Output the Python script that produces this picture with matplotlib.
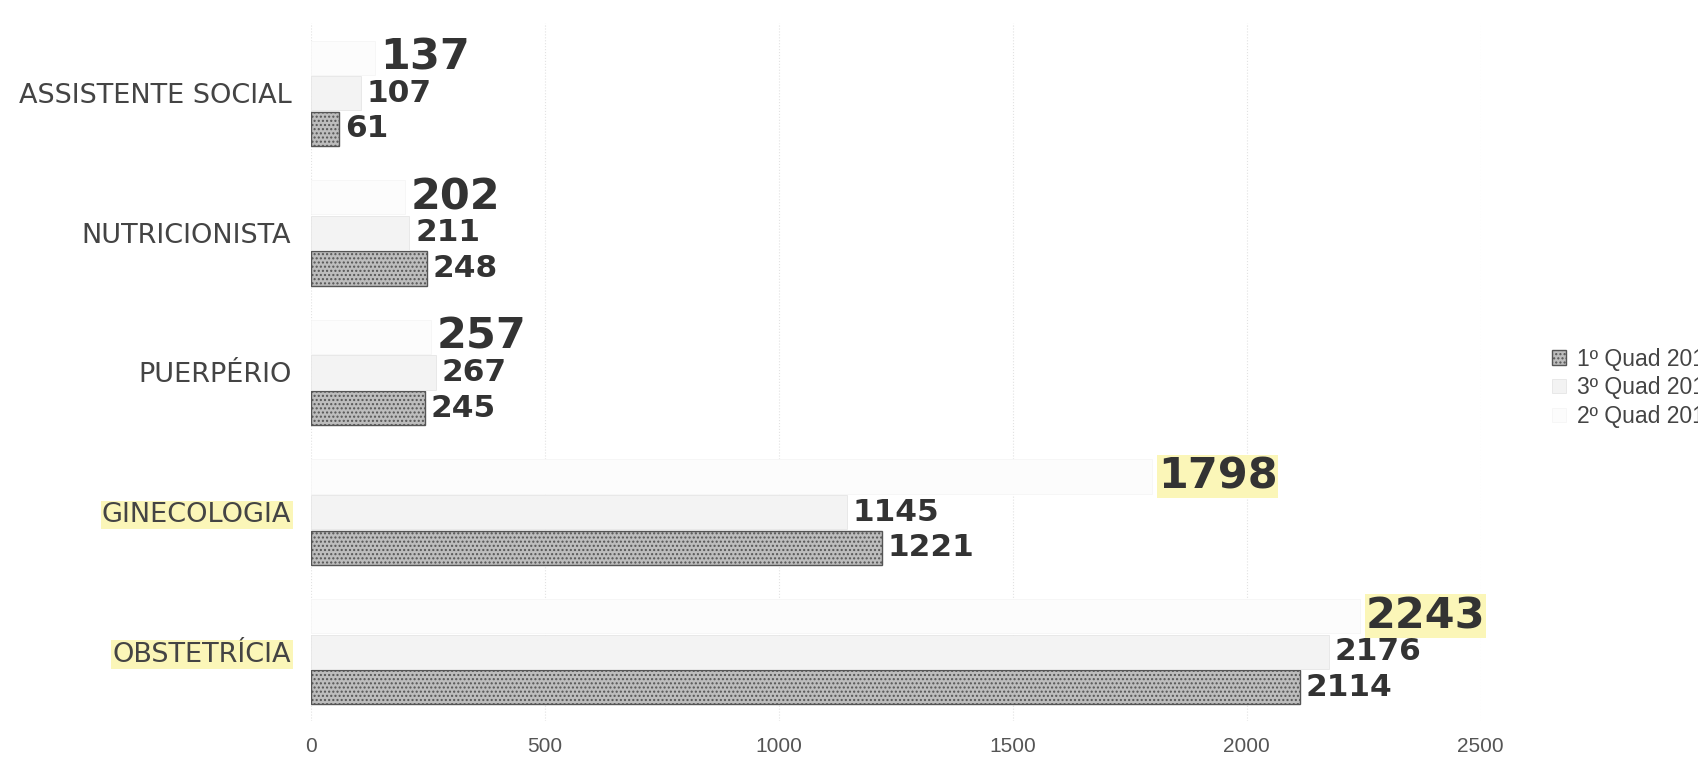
import matplotlib
matplotlib.use('Agg')
import matplotlib.pyplot as plt
import numpy as np

categories = ['ASSISTENTE SOCIAL', 'NUTRICIONISTA', 'PUERPÉRIO', 'GINECOLOGIA', 'OBSTETRÍCIA']
quad1 = [61, 248, 245, 1221, 2114]
quad3 = [107, 211, 267, 1145, 2176]
quad2 = [137, 202, 257, 1798, 2243]
series_names = ['1º Quad 2019', '3º Quad 2019', '2º Quad 2019']
xticks = [0, 500, 1000, 1500, 2000, 2500]
highlighted = ['GINECOLOGIA', 'OBSTETRÍCIA']

plt.rcParams['font.family'] = ['DejaVu Sans']

fig = plt.figure(figsize=(16.98, 7.57), dpi=100)
ax = fig.add_axes([0.183, 0.047, 0.689, 0.922])

y = np.arange(len(categories))
h = 0.245
off = 0.255

b1 = ax.barh(y + off, quad1, height=h, color='#bdbdbd', edgecolor='#555555',
             linewidth=1.0, hatch='....', label=series_names[0])
b3 = ax.barh(y, quad3, height=h, color='#f3f3f3', edgecolor='#e6e6e6',
             linewidth=0.6, label=series_names[1])
b2 = ax.barh(y - off, quad2, height=h, color='#fcfcfc', edgecolor='#f5f5f5',
             linewidth=0.6, label=series_names[2])

# 2º quad labels first so the smaller labels sit on top of their highlight
for bars, vals, size in [(b2, quad2, 31), (b3, quad3, 22.5), (b1, quad1, 22.5)]:
    for rect, v in zip(bars, vals):
        t = ax.annotate(str(v), (v, rect.get_y() + rect.get_height() / 2),
                        xytext=(4, 0), textcoords='offset points',
                        ha='left', va='center', fontsize=size,
                        fontweight='bold', color='#333333')
        if bars is b2 and v > 1000:
            t.set_bbox(dict(facecolor='#fbf6b8', edgecolor='none', pad=0.5))

ax.set_ylim(len(categories) - 0.5, -0.5)
ax.set_xlim(0, 2500)
ax.set_yticks(y)
ax.set_yticklabels(categories, fontsize=19.5, color='#444444')
for lab in ax.get_yticklabels():
    if lab.get_text() in highlighted:
        lab.set_bbox(dict(facecolor='#fbf6b8', edgecolor='none', pad=1))
ax.set_xticks(xticks)
ax.set_xticklabels([str(t) for t in xticks], fontsize=15, color='#555555',
                   family=['Liberation Sans'])
ax.tick_params(axis='both', length=0)
ax.tick_params(axis='x', pad=11)
ax.tick_params(axis='y', pad=14)

ax.grid(True, axis='x', color='#e2e2e2', linewidth=0.8, linestyle=':')
ax.set_axisbelow(True)
for s in ax.spines.values():
    s.set_visible(False)

ax.legend(loc='center left', bbox_to_anchor=(1.043, 0.478), frameon=False,
          prop={'family': 'Liberation Sans', 'size': 16.5}, labelcolor='#444444',
          handlelength=0.65, handleheight=0.57, handletextpad=0.44,
          labelspacing=0.25)

fig.savefig('out.png', dpi=100)
